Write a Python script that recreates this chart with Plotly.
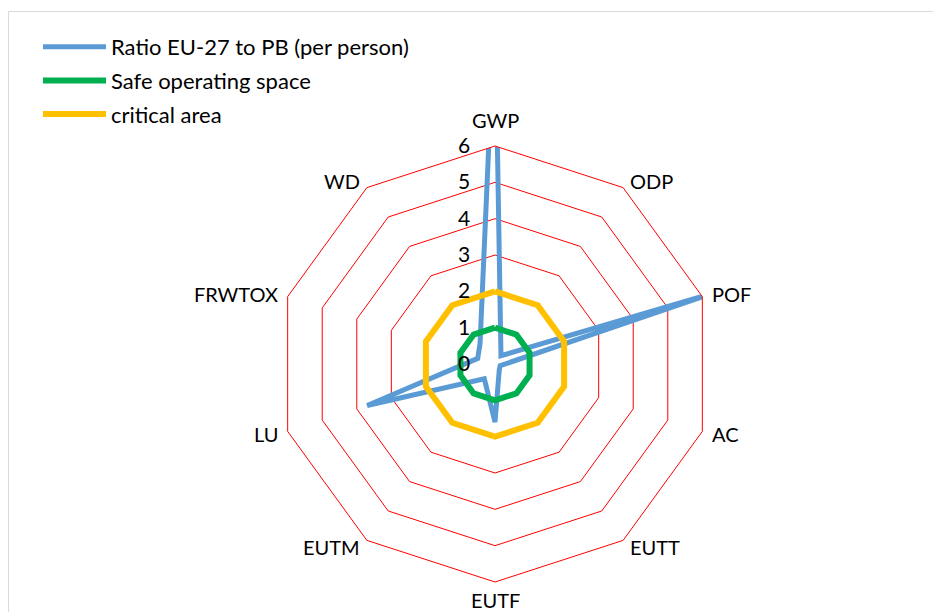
import math
import plotly.graph_objects as go

# Impact categories (clockwise from top)
categories = ["GWP", "ODP", "POF", "AC", "EUTT", "EUTF", "EUTM", "LU", "FRWTOX", "WD"]

# Ratio EU-27 to planetary boundary (per person)
ratio_eu27 = [9.9, 0.28, 6.3, 0.15, 0.2, 1.6, 0.5, 3.7, 0.5, 0.7]
safe_space = [1, 1, 1, 1, 1, 1, 1, 1, 1, 1]
critical_area = [2, 2, 2, 2, 2, 2, 2, 2, 2, 2]

radial_ticks = [0, 1, 2, 3, 4, 5, 6]

FONT = "Lato"
W, H = 941, 612
# the page body has an 8px margin, so figure pixels = screen pixels - 8
OFF = 8


def closed(vals):
    return vals + vals[:1]


fig = go.Figure()
fig.add_trace(go.Scatterpolar(
    r=closed(ratio_eu27), theta=closed(categories),
    mode="lines", name="Ratio EU-27 to PB (per person)", legendgroup="a",
    line=dict(color="#5b9bd5", width=5),
))
fig.add_trace(go.Scatterpolar(
    r=closed(safe_space), theta=closed(categories),
    mode="lines", name="Safe operating space", legendgroup="b",
    line=dict(color="#00b050", width=6),
))
fig.add_trace(go.Scatterpolar(
    r=closed(critical_area), theta=closed(categories),
    mode="lines", name="critical area", legendgroup="c",
    line=dict(color="#ffc000", width=6),
))

# polar centre (495, 364) on screen, radius ~216
cx, cy, half = 495 - OFF, 364 - OFF, 218
R = 216

# category labels placed Excel-style next to each outer vertex
annotations = []
n = len(categories)
for i, name in enumerate(categories):
    a = 2 * math.pi * i / n
    s, c = math.sin(a), math.cos(a)
    if abs(s) < 0.1:
        d = 14 if c > 0 else 6
        xa, ya = "center", ("bottom" if c > 0 else "top")
    else:
        d = 10
        xa, ya = ("left" if s > 0 else "right"), "middle"
    px_ = cx + (R + d) * s
    py_ = cy - (R + d) * c
    annotations.append(dict(
        text=name, x=px_ / W, y=1 - py_ / H, xref="paper", yref="paper",
        xanchor=xa, yanchor=ya, showarrow=False, font=dict(size=20),
    ))

fig.update_layout(
    width=W, height=H,
    margin=dict(l=0, r=0, t=0, b=0),
    paper_bgcolor="white",
    font=dict(family=FONT, size=20, color="black"),
    showlegend=True,
    legend=dict(
        x=30 / W, y=1 - 18 / H, xanchor="left", yanchor="top",
        bgcolor="rgba(0,0,0,0)", itemwidth=63,
        tracegroupgap=2, font=dict(size=22),
    ),
    polar=dict(
        domain=dict(x=[(cx - half) / W, (cx + half) / W],
                    y=[(H - cy - half) / H, (H - cy + half) / H]),
        bgcolor="white",
        gridshape="linear",
        angularaxis=dict(
            rotation=90, direction="clockwise",
            showgrid=False, showline=True, linecolor="#ff0000", linewidth=1,
            ticks="", showticklabels=False,
        ),
        radialaxis=dict(
            range=[0, 6], tickvals=radial_ticks, angle=90, tickangle=90,
            side="counterclockwise",
            showline=False, ticks="outside", ticklen=17,
            tickcolor="rgba(0,0,0,0)",
            gridcolor="#ff0000", gridwidth=1,
            tickfont=dict(size=21),
        ),
    ),
    annotations=annotations,
    shapes=[dict(
        type="rect", xref="paper", yref="paper",
        x0=0.5 / W, x1=1.2, y0=-0.2, y1=1 - 3.5 / H,
        line=dict(color="#d9d9d9", width=1),
    )],
)

fig.write_html("out.html")
